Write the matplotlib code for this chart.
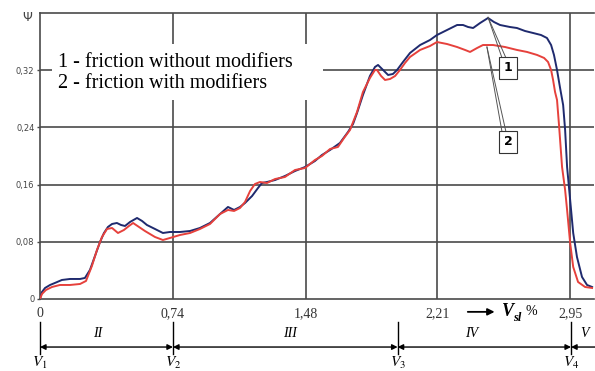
import matplotlib
matplotlib.use("Agg")
import matplotlib.pyplot as plt
from matplotlib.patches import Rectangle

plt.rcParams["mathtext.fontset"] = "stix"

# sliding velocity V_sl, %, and friction coefficient psi
# curve 1 - friction without modifiers
v_1 = [0, 0.011, 0.028, 0.056, 0.083, 0.122, 0.167, 0.223, 0.250, 0.278, 0.306, 0.334,
       0.356, 0.378, 0.401, 0.428, 0.451, 0.473, 0.501, 0.540, 0.568, 0.595, 0.640, 0.684,
       0.723, 0.779, 0.835, 0.890, 0.946, 1.002, 1.046, 1.080, 1.113, 1.141, 1.180, 1.213,
       1.235, 1.263, 1.308, 1.363, 1.419, 1.475, 1.530, 1.569, 1.614, 1.669, 1.714, 1.742,
       1.764, 1.797, 1.836, 1.864, 1.881, 1.909, 1.937, 1.964, 1.987, 2.020, 2.059, 2.115,
       2.170, 2.209, 2.265, 2.321, 2.354, 2.382, 2.410, 2.449, 2.493, 2.526, 2.560, 2.615,
       2.654, 2.699, 2.744, 2.788, 2.821, 2.844, 2.860, 2.877, 2.894, 2.911, 2.922, 2.933,
       2.950, 2.967, 2.988, 3.016, 3.044, 3.072]
psi_1 = [0, 0.0098, 0.0154, 0.0196, 0.0224, 0.0266, 0.028, 0.028, 0.0294, 0.0406, 0.0601, 0.0797,
         0.0923, 0.1007, 0.1049, 0.1063, 0.1035, 0.1021, 0.1077, 0.1133, 0.1091, 0.1035, 0.0979, 0.0923,
         0.0937, 0.0937, 0.0951, 0.0993, 0.1063, 0.1189, 0.1287, 0.1245, 0.1287, 0.1343, 0.1440, 0.1552,
         0.1622, 0.1636, 0.1664, 0.1720, 0.1790, 0.1846, 0.1930, 0.2014, 0.2084, 0.2182, 0.2336, 0.2448,
         0.2601, 0.2853, 0.3119, 0.3245, 0.3273, 0.3203, 0.3133, 0.3147, 0.3203, 0.3315, 0.3441, 0.3552,
         0.3622, 0.3692, 0.3762, 0.3832, 0.3832, 0.3804, 0.3790, 0.3860, 0.3930, 0.3874, 0.3832, 0.3804,
         0.3790, 0.3748, 0.3720, 0.3692, 0.3650, 0.3552, 0.3413, 0.3203, 0.2951, 0.2713, 0.2364, 0.1846,
         0.1385, 0.0923, 0.0587, 0.0308, 0.0196, 0.0168]

# curve 2 - friction with modifiers
v_2 = [0, 0.011, 0.033, 0.067, 0.111, 0.167, 0.223, 0.256, 0.289, 0.317, 0.345, 0.373,
       0.401, 0.434, 0.467, 0.495, 0.518, 0.551, 0.584, 0.640, 0.684, 0.723, 0.779, 0.835,
       0.890, 0.946, 1.002, 1.046, 1.080, 1.113, 1.141, 1.169, 1.196, 1.224, 1.263, 1.308,
       1.363, 1.419, 1.475, 1.530, 1.569, 1.614, 1.658, 1.692, 1.725, 1.764, 1.797, 1.836,
       1.864, 1.875, 1.898, 1.920, 1.948, 1.976, 2.003, 2.031, 2.059, 2.115, 2.170, 2.209,
       2.265, 2.321, 2.365, 2.393, 2.432, 2.465, 2.521, 2.588, 2.654, 2.710, 2.766, 2.805,
       2.827, 2.844, 2.855, 2.866, 2.877, 2.888, 2.905, 2.922, 2.933, 2.950, 2.967, 2.994,
       3.033, 3.072]
psi_2 = [0, 0.0070, 0.0126, 0.0168, 0.0196, 0.0196, 0.0210, 0.0252, 0.0462, 0.0685, 0.0867, 0.0979,
         0.0993, 0.0923, 0.0965, 0.1021, 0.1063, 0.1007, 0.0951, 0.0867, 0.0825, 0.0853, 0.0895, 0.0923,
         0.0979, 0.1049, 0.1189, 0.1245, 0.1231, 0.1273, 0.1357, 0.1510, 0.1608, 0.1636, 0.1622, 0.1678,
         0.1706, 0.1804, 0.1832, 0.1944, 0.2000, 0.2098, 0.2126, 0.2252, 0.2364, 0.2615, 0.2895, 0.3091,
         0.3203, 0.3203, 0.3119, 0.3063, 0.3077, 0.3119, 0.3203, 0.3301, 0.3385, 0.3483, 0.3538, 0.3594,
         0.3566, 0.3524, 0.3483, 0.3455, 0.3510, 0.3552, 0.3552, 0.3524, 0.3483, 0.3455, 0.3413, 0.3371,
         0.3315, 0.3203, 0.3063, 0.2895, 0.2783, 0.2434, 0.1846, 0.1524, 0.1245, 0.0783, 0.0448, 0.0238,
         0.0168, 0.0154]

y_ticks = [0, 0.08, 0.16, 0.24, 0.32]
y_tick_labels = ["0", "0,08", "0,16", "0,24", "0,32"]
x_ticks = [0, 0.74, 1.48, 2.21, 2.95]
x_tick_labels = ["0", "0,74", "1,48", "2,21", "2,95"]

# zone boundaries V1..V4 and zone names
bounds = [0, 0.74, 1.99, 2.955]
bound_labels = ["$V_1$", "$V_2$", "$V_3$", "$V_4$"]
zones = ["II", "III", "IV", "V"]
zone_x = [0.32, 1.39, 2.40, 3.03]

SERIF = "Liberation Serif"
GRID = "#4a4a4a"

fig = plt.figure(figsize=(5.95, 3.71), dpi=100, facecolor="white")
ax = fig.add_axes([0.0672, 0.1941, 0.9303, 0.7709])
ax.set_xlim(0, 3.08)
ax.set_ylim(0, 0.40)

ax.set_yticks(y_ticks)
ax.set_yticklabels(y_tick_labels, fontsize=6, color="#444444")
ax.set_xticks(x_ticks)
ax.set_xticklabels(x_tick_labels, fontsize=10, family=SERIF, color="#333333")
ax.tick_params(axis="y", length=2, width=1, color=GRID, pad=2)
ax.tick_params(axis="x", length=0, pad=6)

for y in y_ticks[1:]:
    ax.axhline(y, color=GRID, lw=1.2, zorder=1)
for x in x_ticks[1:]:
    ax.axvline(x, color=GRID, lw=1.2, zorder=1)
for side in ("left", "bottom", "top"):
    ax.spines[side].set_color(GRID)
    ax.spines[side].set_linewidth(1.2)
ax.spines["right"].set_visible(False)

# white panel behind the legend text
ax.add_patch(Rectangle((0.067, 0.278), 1.508, 0.079, facecolor="white",
                       edgecolor="none", zorder=2))
ax.text(0.10, 0.331, "1 - friction without modifiers", family=SERIF, fontsize=14.5,
        va="center", zorder=3)
ax.text(0.10, 0.301, "2 - friction with modifiers", family=SERIF, fontsize=14.5,
        va="center", zorder=3)

ax.plot(v_1, psi_1, color="#1f2a6e", lw=1.4, zorder=4)
ax.plot(v_2, psi_2, color="#e6413c", lw=1.4, zorder=5)

# curve markers with leader lines
for x0, y0, yb in [(2.493, 0.394, 0.337), (2.487, 0.3524, 0.2336)]:
    for xb in (2.571, 2.593):
        ax.plot([x0, xb], [y0, yb], color="#555555", lw=0.7, zorder=6)
for txt, y in [("1", 0.3231), ("2", 0.2196)]:
    ax.text(2.604, y, txt, fontsize=9, fontweight="bold", ha="center", va="center",
            zorder=7, bbox=dict(boxstyle="square,pad=0.35", facecolor="white",
                                edgecolor="#333333", lw=0.8))

ax.text(-0.072, 0.394, "\u03a8", fontsize=9, color="#444444", ha="center", va="center",
        clip_on=False)

# axis caption: -> V_sl %
tr = ax.get_xaxis_transform()
ax.annotate("", xy=(2.545, -0.045), xytext=(2.365, -0.045), xycoords=tr,
            arrowprops=dict(arrowstyle="-|>", color="black", lw=1.3, mutation_scale=10))
ax.text(2.57, -0.045, "V", family=SERIF, fontsize=13, fontweight="bold", style="italic",
        transform=tr, va="center")
ax.text(2.63, -0.065, "sl", family=SERIF, fontsize=9, fontweight="bold", style="italic",
        transform=tr, va="center")
ax.text(2.70, -0.045, "%", family=SERIF, fontsize=10, transform=tr, va="center")

# zone boundaries and spans below the axis
for b, lab in zip(bounds, bound_labels):
    ax.plot([b, b], [-0.080, -0.192], color="black", lw=1.0, transform=tr, clip_on=False)
    ax.text(b, -0.222, lab, fontsize=11, transform=tr, ha="center", va="center")
ends = bounds + [3.09]
for i in range(len(zones)):
    style = "<|-|>" if i < len(zones) - 1 else "-|>"
    start, stop = (ends[i], ends[i + 1]) if i < len(zones) - 1 else (ends[i + 1], ends[i])
    ax.annotate("", xy=(stop, -0.168), xytext=(start, -0.168), xycoords=tr,
                arrowprops=dict(arrowstyle=style, color="black", lw=1.0, mutation_scale=8,
                                shrinkA=0, shrinkB=0))
    ax.text(zone_x[i], -0.119, zones[i], family=SERIF, fontsize=10, style="italic",
            transform=tr, ha="center", va="center")

fig.savefig("out.png", dpi=100, facecolor="white")
